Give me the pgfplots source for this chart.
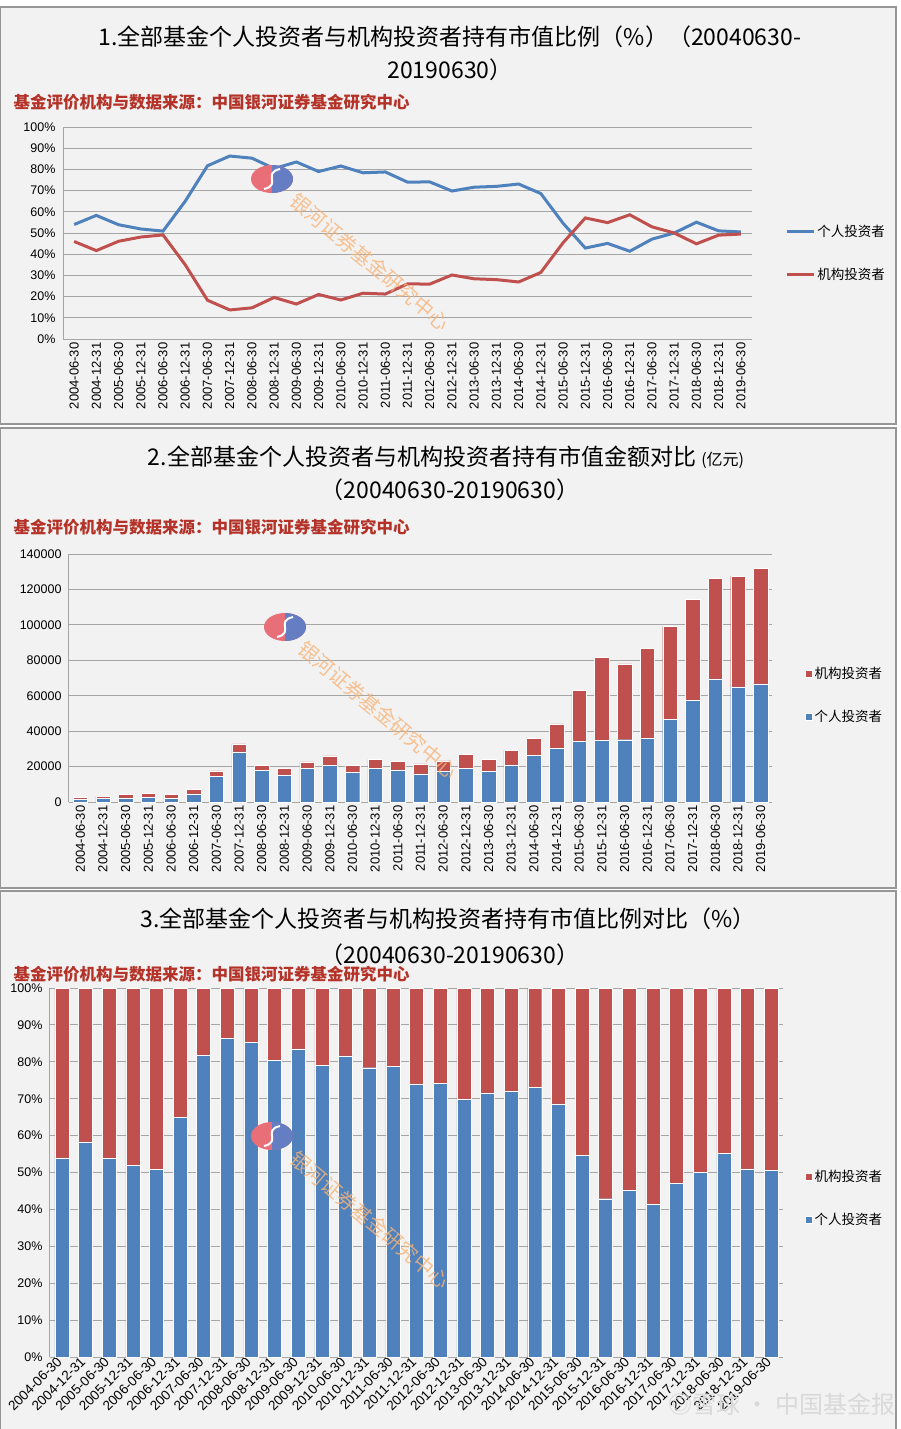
\documentclass[border=0pt]{standalone}
\usepackage{fontspec}
\setmainfont{Liberation Sans}
\newfontfamily\cjk{Noto Sans CJK SC}
\usepackage{pgfplots}
\usepackage{pgfplotstable}
\pgfplotsset{compat=1.18}
\definecolor{indblue}{RGB}{79,129,189}
\definecolor{insred}{RGB}{192,80,77}
\definecolor{panelbg}{RGB}{242,242,242}
\definecolor{framegray}{RGB}{150,150,150}
\definecolor{gridgray}{RGB}{165,165,165}
\definecolor{srcred}{RGB}{180,50,40}
\definecolor{wmorange}{RGB}{247,180,120}
\definecolor{logored}{RGB}{232,110,120}
\definecolor{logoblue}{RGB}{100,125,195}

\pgfplotstableread{
i date ind ins
0 2004-06-30 54.0 46.0
1 2004-12-31 58.3 41.7
2 2005-06-30 53.9 46.1
3 2005-12-31 51.9 48.1
4 2006-06-30 50.9 49.1
5 2006-12-31 65.0 35.0
6 2007-06-30 81.7 18.3
7 2007-12-31 86.3 13.7
8 2008-06-30 85.3 14.7
9 2008-12-31 80.4 19.6
10 2009-06-30 83.5 16.5
11 2009-12-31 79.0 21.0
12 2010-06-30 81.6 18.4
13 2010-12-31 78.4 21.6
14 2011-06-30 78.8 21.2
15 2011-12-31 74.0 26.0
16 2012-06-30 74.1 25.9
17 2012-12-31 69.8 30.2
18 2013-06-30 71.6 28.4
19 2013-12-31 72.0 28.0
20 2014-06-30 73.1 26.9
21 2014-12-31 68.6 31.4
22 2015-06-30 54.6 45.4
23 2015-12-31 42.9 57.1
24 2016-06-30 45.1 54.9
25 2016-12-31 41.4 58.6
26 2017-06-30 47.1 52.9
27 2017-12-31 50.0 50.0
28 2018-06-30 55.1 44.9
29 2018-12-31 51.0 49.0
30 2019-06-30 50.5 49.5
}\pct

\pgfplotstableread{
i date ind ins
0 2004-06-30 1430 1210
1 2004-12-31 1980 1410
2 2005-06-30 2330 2000
3 2005-12-31 2540 2360
4 2006-06-30 2200 2130
5 2006-12-31 4650 2510
6 2007-06-30 14310 3210
7 2007-12-31 28300 4490
8 2008-06-30 17680 3050
9 2008-12-31 15300 3730
10 2009-06-30 18880 3730
11 2009-12-31 20540 5460
12 2010-06-30 16920 3810
13 2010-12-31 18910 5210
14 2011-06-30 18120 4870
15 2011-12-31 15900 5580
16 2012-06-30 17180 6000
17 2012-12-31 18810 8140
18 2013-06-30 17130 6800
19 2013-12-31 21020 8180
20 2014-06-30 26300 9680
21 2014-12-31 30240 13840
22 2015-06-30 34350 28570
23 2015-12-31 34990 46580
24 2016-06-30 35170 42820
25 2016-12-31 35880 50780
26 2017-06-30 46670 52420
27 2017-12-31 57270 57270
28 2018-06-30 69550 56670
29 2018-12-31 65050 62490
30 2019-06-30 66690 65370
}\amt

\pgfplotsset{
  base/.style={
    scale only axis,
    xmin=-0.5, xmax=30.5,
    xtick={0,...,30},
    xticklabels from table={\pct}{date},
    axis x line*=bottom, axis y line*=left,
    axis line style={-, draw=gridgray, line width=1pt},
    major tick length=0pt,
    ymajorgrids, grid style={draw=gridgray, line width=1pt},
    /pgf/number format/assume math mode=true,
    legend cell align=left,
    legend style={draw=none, fill=none, font=\cjk\fontsize{13.5}{13.5}\selectfont, row sep=26pt, inner sep=0pt},
    yticklabel style={font=\fontsize{12.5}{12.5}\selectfont, xshift=-4pt},
  },
  sqleg/.style={legend image code/.code={\fill[##1] (0pt,-3.5pt) rectangle (7pt,3.5pt);}},
  lnleg/.style={legend image code/.code={\draw[##1, line width=3pt] (0pt,0pt) -- (27pt,0pt);}},
}

\newcommand\logo[1]{%
  \begin{scope}[shift={#1}]
    \fill[logored] (0,0) ellipse (21pt and 14pt);
    \begin{scope}\clip (0pt,-15pt) rectangle (22pt,15pt);\fill[logoblue] (0,0) ellipse (21pt and 14pt);\end{scope}
    \draw[white, line width=2pt] (-8pt,-10pt) .. controls (10pt,-6pt) and (-10pt,6pt) .. (8pt,10pt);
  \end{scope}}

\begin{document}
\begin{tikzpicture}
\useasboundingbox (0,0) rectangle (900pt,-1429pt);
\fill[white] (0,0) rectangle (900pt,-1429pt);
\filldraw[fill=panelbg, draw=framegray, line width=1.2pt] (0.6pt,-7pt) rectangle (896pt,-424pt);
\filldraw[fill=panelbg, draw=framegray, line width=1.2pt] (0.6pt,-428pt) rectangle (896pt,-888pt);
\filldraw[fill=panelbg, draw=framegray, line width=1.2pt] (0.6pt,-891pt) rectangle (896pt,-1440pt);

% ---------- Panel 1 ----------
\node[font=\cjk\fontsize{23}{23}\selectfont] at (450pt,-37pt) {1.全部基金个人投资者与机构投资者持有市值比例（\%）（20040630-};
\node[font=\cjk\fontsize{23}{23}\selectfont] at (450pt,-70pt) {20190630）};
\node[anchor=west, text=srcred, font=\cjk\bfseries\fontsize{16.5}{16.5}\selectfont] at (10pt,-102pt) {基金评价机构与数据来源：中国银河证券基金研究中心};

\begin{axis}[base, at={(63pt,-127pt)}, anchor=north west, width=689pt, height=212pt,
  ymin=0, ymax=100, ytick={0,10,...,100},
  yticklabel={\pgfmathprintnumber{\tick}\%},
  xticklabel style={rotate=90, anchor=east, font=\fontsize{13}{13}\selectfont},
  legend style={at={(1.048,0.406)}, anchor=west}]
\addplot[indblue, line width=3pt, no markers, lnleg] table[x=i,y=ind]{\pct};
\addlegendentry{个人投资者}
\addplot[insred, line width=3pt, no markers, lnleg] table[x=i,y=ins]{\pct};
\addlegendentry{机构投资者}
\end{axis}
\logo{(272pt,-179pt)}
\node[rotate=-40, text=wmorange, text opacity=0.8, font=\cjk\fontsize{20}{20}\selectfont] at (370pt,-262pt) {银河证券基金研究中心};

% ---------- Panel 2 ----------
\node[font=\cjk\fontsize{23}{23}\selectfont] at (446pt,-457pt) {2.全部基金个人投资者与机构投资者持有市值金额对比 {\fontsize{16}{16}\selectfont (亿元)}};
\node[font=\cjk\fontsize{23}{23}\selectfont] at (450pt,-490pt) {（20040630-20190630）};
\node[anchor=west, text=srcred, font=\cjk\bfseries\fontsize{16.5}{16.5}\selectfont] at (10pt,-527pt) {基金评价机构与数据来源：中国银河证券基金研究中心};

\begin{axis}[base, at={(69pt,-554pt)}, anchor=north west, width=703pt, height=248pt,
  ymin=0, ymax=140000, ytick={0,20000,...,140000},
  scaled y ticks=false,
  yticklabel style={/pgf/number format/fixed, /pgf/number format/1000 sep={}},
  xticklabel style={rotate=90, anchor=east, font=\fontsize{13}{13}\selectfont},
  ybar stacked, bar width=14.5pt, reverse legend,
  legend style={at={(1.047,0.431)}, anchor=west}]
\addplot[fill=indblue, draw=white, line width=0.4pt, sqleg] table[x=i,y=ind]{\amt};
\addlegendentry{个人投资者}
\addplot[fill=insred, draw=white, line width=0.4pt, sqleg] table[x=i,y=ins]{\amt};
\addlegendentry{机构投资者}
\end{axis}
\logo{(285pt,-627pt)}
\node[rotate=-40, text=wmorange, text opacity=0.8, font=\cjk\fontsize{20}{20}\selectfont] at (378pt,-710pt) {银河证券基金研究中心};

% ---------- Panel 3 ----------
\node[font=\cjk\fontsize{23}{23}\selectfont] at (448pt,-919pt) {3.全部基金个人投资者与机构投资者持有市值比例对比（\%）};
\node[font=\cjk\fontsize{23}{23}\selectfont] at (450pt,-955pt) {（20040630-20190630）};
\node[anchor=west, text=srcred, font=\cjk\bfseries\fontsize{16.5}{16.5}\selectfont] at (10pt,-974pt) {基金评价机构与数据来源：中国银河证券基金研究中心};

\begin{axis}[base, at={(50pt,-988pt)}, anchor=north west, width=733pt, height=369pt,
  ymin=0, ymax=100, ytick={0,10,...,100},
  yticklabel={\pgfmathprintnumber{\tick}\%},
  xticklabel style={rotate=45, anchor=east, font=\fontsize{13.5}{13.5}\selectfont},
  ybar stacked, bar width=14pt, reverse legend,
  legend style={at={(1.030,0.431)}, anchor=west}]
\addplot[fill=indblue, draw=white, line width=0.4pt, sqleg] table[x=i,y=ind]{\pct};
\addlegendentry{个人投资者}
\addplot[fill=insred, draw=white, line width=0.4pt, sqleg] table[x=i,y=ins]{\pct};
\addlegendentry{机构投资者}
\end{axis}
\logo{(272pt,-1136pt)}
\node[rotate=-40, text=wmorange, text opacity=0.8, font=\cjk\fontsize{20}{20}\selectfont] at (370pt,-1220pt) {银河证券基金研究中心};
\node[anchor=west, text=gray!30, font=\cjk\fontsize{24}{24}\selectfont] at (665pt,-1404pt) {◎雪球 · 中国基金报};
\end{tikzpicture}
\end{document}
